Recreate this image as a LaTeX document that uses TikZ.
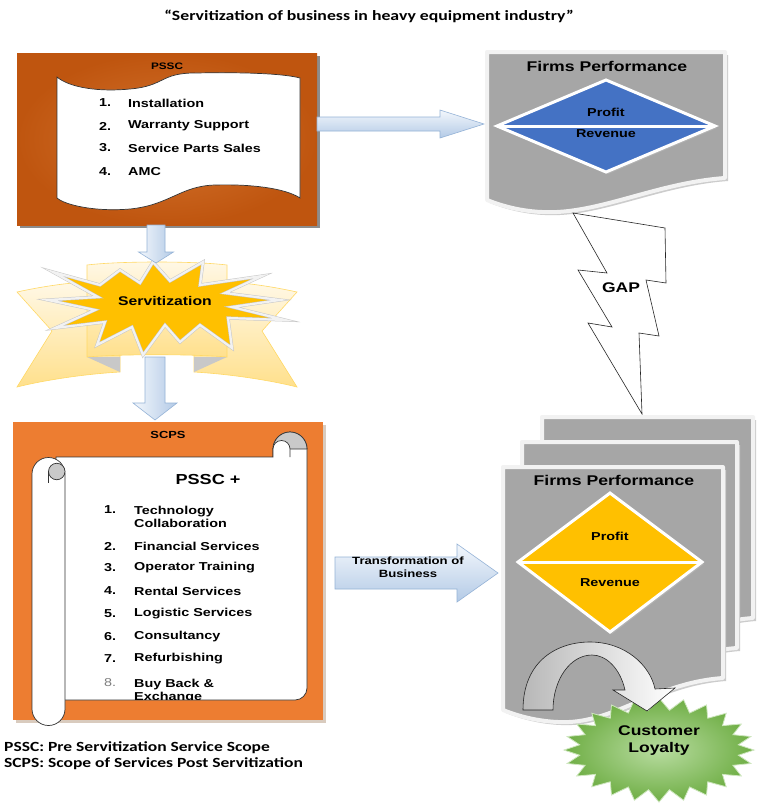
\documentclass[tikz,border=0pt]{standalone}
\usepackage{fontspec}
\usetikzlibrary{calc}
\newfontfamily\arialx[FakeStretch=1.25]{Liberation Sans}
\newfontfamily\calx[FakeStretch=1.25]{Carlito}
\newcommand\setfs[2]{\fontsize{#1pt}{#2pt}\selectfont}

\definecolor{psscin}{HTML}{D4742F}
\definecolor{psscout}{HTML}{BF550F}
\definecolor{scpsorange}{HTML}{ED7D31}
\definecolor{scpsshadow}{HTML}{D9CBBE}
\definecolor{docgray}{HTML}{A6A6A6}
\definecolor{docedge}{HTML}{F2F2F2}
\definecolor{fpblue}{HTML}{4472C4}
\definecolor{fpgold}{HTML}{FFC000}
\definecolor{arrowtop}{HTML}{F3F7FC}
\definecolor{arrowbot}{HTML}{B3CAE6}
\definecolor{arrowline}{HTML}{95B3D7}
\definecolor{ribbonlight}{HTML}{FFF8E6}
\definecolor{ribbondark}{HTML}{FFE08C}
\definecolor{ribbonline}{HTML}{FFD966}
\definecolor{foldgray}{HTML}{C8C8C8}
\definecolor{curlgray}{HTML}{C9C9C9}
\definecolor{loyaltylight}{HTML}{B8DCA0}
\definecolor{loyaltydark}{HTML}{6FAE45}
\definecolor{numgray}{HTML}{7F7F7F}

% horizontal block arrow: style, start, tip, half shaft, half head, head length
\newcommand\blockarrowH[6]{%
  \path[#1] ($(#2)+(0,-#4)$) -- ($(#3)+(-#6,-#4)$) -- ($(#3)+(-#6,-#5)$) -- (#3)
    -- ($(#3)+(-#6,#5)$) -- ($(#3)+(-#6,#4)$) -- ($(#2)+(0,#4)$) -- cycle;}
% downward block arrow: style, start, tip, half shaft, half head, head length
\newcommand\blockarrowV[6]{%
  \path[#1] ($(#2)+(-#4,0)$) -- ($(#3)+(-#4,-#6)$) -- ($(#3)+(-#5,-#6)$) -- (#3)
    -- ($(#3)+(#5,-#6)$) -- ($(#3)+(#4,-#6)$) -- ($(#2)+(#4,0)$) -- cycle;}
% grey page with a wavy lower edge: left, top, right, bottom at right, bottom at left
\newcommand\pagesheet[5]{%
  \fill[black!20] (#1+3,#2+3) -- (#3+3,#2+3) -- (#3+3,#4+3)
    .. controls (#3-67,#4+8) and (#1+113,#5+18) .. (#1+58,#5+15)
    .. controls (#1+33,#5+14) and (#1+13,#5+7) .. (#1+3,#5+3) -- cycle;
  \filldraw[sheet] (#1,#2) -- (#3,#2) -- (#3,#4)
    .. controls (#3-70,#4+5) and (#1+110,#5+15) .. (#1+55,#5+12)
    .. controls (#1+30,#5+11) and (#1+10,#5+4) .. (#1,#5) -- cycle;}

\tikzset{
  lbl/.style={inner sep=0pt, font=\arialx\bfseries\setfs{11.5}{13}},
  itemnum/.style={lbl, anchor=west},
  itemtxt/.style={lbl, anchor=west, align=left},
  sheet/.style={fill=docgray, draw=docedge, line width=4pt, line join=round},
  bluearrow/.style={top color=arrowtop, bottom color=arrowbot, draw=arrowline, line width=0.6pt},
  bluearrowv/.style={left color=arrowtop, right color=arrowbot, draw=arrowline, line width=0.6pt},
  ribbon/.style={top color=ribbonlight, bottom color=ribbondark, draw=ribbonline, line width=0.6pt},
  outline/.style={draw=black!80, line width=0.7pt},
}

\begin{document}
\begin{tikzpicture}[x=1pt, y=-1pt]
\useasboundingbox (0,0) rectangle (756,803);
\fill[white] (0,0) rectangle (756,803);

% ---------- title ----------
\node[inner sep=0pt, font=\calx\bfseries\setfs{14.2}{16}] (title) at (369,16)
  {“Servitization of business in heavy equipment industry”};

% ---------- PSSC box ----------
\fill[black!45] (20,56) rectangle (320,228);
\node[rectangle, inner sep=0pt, minimum width=300pt, minimum height=172pt,
      inner color=psscin, outer color=psscout] (pssc) at (167,139) {};
\filldraw[fill=white, outline]
  (57,77) .. controls (70,88) and (100,92) .. (130,89)
  .. controls (165,86) and (160,73) .. (195,73)
  .. controls (250,72) and (285,74) .. (300,78)
  -- (300,198)
  .. controls (285,188) and (250,184) .. (215,185)
  .. controls (180,186) and (170,205) .. (130,209)
  .. controls (95,212) and (65,205) .. (57,198) -- cycle;
\node[lbl, font=\arialx\bfseries\setfs{9.4}{11}] (pssctitle) at (167,66) {PSSC};
\foreach \n/\t/\y in {1/Installation/103, 2/Warranty Support/126,
                      3/Service Parts Sales/148, 4/AMC/172} {
  \node[itemnum] (pn\n) at (99,\y) {\n.};
  \node[itemtxt] (pt\n) at (128,\y) {\t};
}

% ---------- firms performance (before) ----------
\pagesheet{487}{52}{725}{178}{200}
\node[lbl, font=\arialx\bfseries\setfs{14.1}{16}] (fptop) at (607,66) {Firms Performance};
\coordinate (bdT) at (606,80); \coordinate (bdR) at (715,126);
\coordinate (bdB) at (606,172); \coordinate (bdL) at (497,126);
\fill[black!30] ($(bdT)+(2,2)$) -- ($(bdR)+(2,2)$) -- ($(bdB)+(2,2)$) -- ($(bdL)+(2,2)$) -- cycle;
\filldraw[fill=fpblue, draw=white, line width=3pt, line join=miter] (bdT) -- (bdR) -- (bdB) -- (bdL) -- cycle;
\draw[white, line width=3pt] (bdL) -- (bdR);
\node[lbl] (profit1) at (606,112) {Profit};
\node[lbl] (revenue1) at (606,134) {Revenue};

% PSSC -> firms performance
\coordinate (psscout) at (317,124);
\coordinate (fpin) at (484,124);
\blockarrowH{bluearrow}{psscout}{fpin}{7}{14}{44}

% ---------- gap bolt ----------
\filldraw[fill=white, draw=black!85, line width=0.6pt, line join=miter]
  (573,213) -- (665,228) -- (666,283) -- (646,280) -- (659,336) -- (639,333)
  -- (642,414) -- (588,323) -- (612,327) -- (578,270) -- (607,273) -- cycle;
\node[lbl, font=\arialx\bfseries\setfs{14}{16}] (gap) at (621,288) {GAP};

% ---------- servitization ribbon and burst ----------
\path[ribbon] (17,292) .. controls (40,287) and (65,283) .. (87,282) -- (120,282)
  -- (120,372) .. controls (85,374) and (45,380) .. (17,387) -- (52,331) -- cycle;
\path[ribbon] (297,292) .. controls (274,287) and (249,283) .. (227,282) -- (194,282)
  -- (194,372) .. controls (229,374) and (269,380) .. (297,387) -- (262,331) -- cycle;
\fill[foldgray] (87,357) -- (120,357) -- (120,372) -- cycle;
\fill[foldgray] (227,357) -- (194,357) -- (194,372) -- cycle;
\path[ribbon] (87,265) .. controls (120,261) and (194,261) .. (227,265) -- (227,357)
  .. controls (194,354) and (120,354) .. (87,357) -- cycle;
\path[fill=fpgold, draw=black!22, double=docedge, double distance=2.2pt, line width=0.5pt, line join=miter]
  (53,272) -- (100,285) -- (120,270) -- (140,283) -- (153,262) -- (170,281)
  -- (203,262) -- (200,285) -- (262,276) -- (225,293) -- (280,300) -- (232,307)
  -- (285,320) -- (228,318) -- (232,348) -- (200,325) -- (180,342) -- (165,325)
  -- (143,355) -- (132,327) -- (97,345) -- (105,322) -- (55,328) -- (95,310)
  -- (48,300) -- (98,297) -- cycle;
\node[lbl, font=\arialx\bfseries\setfs{12.6}{14}] (servitization) at (165,301) {Servitization};

% PSSC -> servitization -> SCPS
\coordinate (psscdown) at (156,225);
\coordinate (servin) at (156,263);
\blockarrowV{bluearrowv}{psscdown}{servin}{9}{17.5}{11}
\coordinate (servout) at (155,357);
\coordinate (scpsin) at (155,420);
\blockarrowV{bluearrowv}{servout}{scpsin}{10}{22}{17}

% ---------- SCPS box ----------
\fill[scpsshadow] (16,425) rectangle (326,723);
\node[rectangle, inner sep=0pt, minimum width=310pt, minimum height=298pt,
      fill=scpsorange] (scps) at (168,571) {};
\node[lbl, font=\arialx\bfseries\setfs{10.3}{12}] (scpstitle) at (168,435) {SCPS};
% scroll sheet
\filldraw[fill=white, outline] (56,457) -- (273,457) -- (273,449)
  arc[start angle=180, end angle=360, radius=17] -- (307,688)
  arc[start angle=0, end angle=90, radius=12] -- (56,700) -- cycle;
\filldraw[fill=curlgray, outline] (273,449) arc[start angle=180, end angle=360, radius=17] -- cycle;
\filldraw[fill=white, outline] (273,457) -- (273,449)
  arc[start angle=180, end angle=360, radius=8.5] -- (290,457);
% left roll
\filldraw[fill=white, outline] (32,474) -- (32,709)
  arc[start angle=180, end angle=0, radius=16.5] -- (65,474)
  arc[start angle=0, end angle=-180, radius=16.5] -- cycle;
\filldraw[fill=curlgray, outline] (56.75,471.5) circle[radius=8.25];
\draw[outline] (48.5,471.5) -- (48.5,483);
% scroll text
\begin{scope}
\clip (0,0) rectangle (756,699.3);
\node[lbl, font=\arialx\bfseries\setfs{14.5}{16}] (psscplus) at (208,480) {PSSC +};
\node[itemnum] (sn1) at (104,510) {1.};
\node[itemtxt, anchor=north west] (st1) at (134,505.5) {Technology\\Collaboration};
\foreach \n/\t/\y in {2/Financial Services/546, 3/Operator Training/568,
                      4/Rental Services/591, 5/Logistic Services/614,
                      6/Consultancy/637, 7/Refurbishing/659} {
  \node[itemnum] (sn\n) at (104,\y) {\n.};
  \node[itemtxt] (st\n) at (134,\y) {\t};
}
\node[itemnum, text=numgray, font=\arialx\setfs{11.5}{13}] (sn8) at (104,683) {8.};
\node[itemtxt, anchor=north west] (st8) at (134,678.5) {Buy Back \&\\Exchange};
\end{scope}

% ---------- transformation arrow ----------
\coordinate (scpsout) at (335,573);
\coordinate (fpin2) at (498,573);
\blockarrowH{bluearrow}{scpsout}{fpin2}{16}{29}{41}
\node[lbl, align=center, font=\arialx\bfseries\setfs{10.5}{12.5}] (transform) at (408,567)
  {Transformation of\\Business};

% ---------- firms performance (after), stacked pages ----------
\pagesheet{542}{417}{753}{618}{650}
\pagesheet{522}{442}{737}{648}{680}
\pagesheet{503}{467}{723}{678}{710}
\node[lbl, font=\arialx\bfseries\setfs{14.1}{16}] (fpbottom) at (614,480) {Firms Performance};
\coordinate (gdT) at (610,493); \coordinate (gdR) at (702,562);
\coordinate (gdB) at (610,632); \coordinate (gdL) at (518,562);
\fill[black!30] ($(gdT)+(2,2)$) -- ($(gdR)+(2,2)$) -- ($(gdB)+(2,2)$) -- ($(gdL)+(2,2)$) -- cycle;
\filldraw[fill=fpgold, draw=white, line width=3pt, line join=miter] (gdT) -- (gdR) -- (gdB) -- (gdL) -- cycle;
\draw[white, line width=3pt] (gdL) -- (gdR);
\node[lbl] (profit2) at (610,536) {Profit};
\node[lbl] (revenue2) at (610,583) {Revenue};

% ---------- customer loyalty burst ----------
\path[inner color=loyaltylight, outer color=loyaltydark, draw=loyaltylight!70!white, line width=0.8pt]
  plot[variable=\k, samples at={0,...,47}]
  ({659+(87.5+7.5*cos(\k*180))*cos(\k*7.5)}, {750+(46+6*cos(\k*180))*sin(\k*7.5)}) -- cycle;
\node[lbl, align=center, font=\arialx\bfseries\setfs{14}{17}] (loyalty) at (659,741)
  {Customer\\Loyalty};

% curved arrow from performance to loyalty
\path[left color=black!28, right color=white, draw=black!85, line width=0.6pt, line join=miter]
  (523,710) .. controls (523,660) and (558,642) .. (590,642)
  .. controls (625,642) and (650,665) .. (655,689)
  -- (675,688) -- (647,711) -- (613,690) -- (625,690)
  .. controls (620,668) and (606,655) .. (592,655)
  .. controls (570,655) and (553,680) .. (553,710) -- cycle;

% ---------- legend ----------
\node[inner sep=0pt, anchor=west, font=\calx\bfseries\setfs{14}{16}] (legend1) at (4,748)
  {PSSC: Pre Servitization Service Scope};
\node[inner sep=0pt, anchor=west, font=\calx\bfseries\setfs{14}{16}] (legend2) at (4,764)
  {SCPS: Scope of Services Post Servitization};
\end{tikzpicture}
\end{document}
